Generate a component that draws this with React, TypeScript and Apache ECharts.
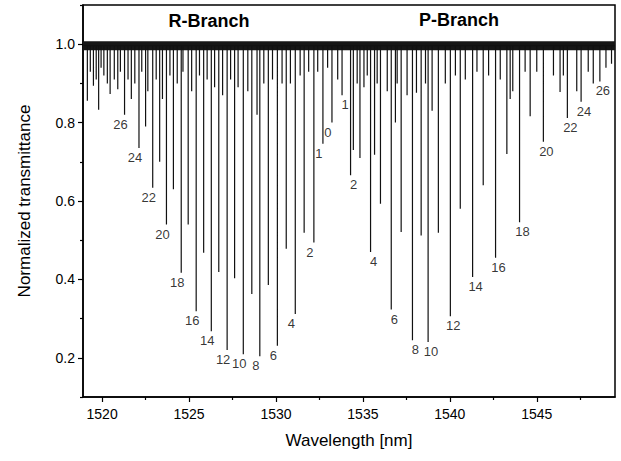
import React, { useEffect, useRef } from "react";
import * as echarts from "echarts";

// Axis ranges and tick values
const X_MIN = 1518.9;
const X_MAX = 1549.5;
const Y_MIN = 0.1;
const Y_MAX = 1.1;
const xMajorTicks = [1520, 1525, 1530, 1535, 1540, 1545];
const xMinorTicks = [1522.5, 1527.5, 1532.5, 1537.5, 1542.5, 1547.5];
const yMajorTicks = [0.2, 0.4, 0.6, 0.8, 1.0];
const yMinorTicks = [0.1, 0.3, 0.5, 0.7, 0.9, 1.1];
const BASELINE = 0.996;

// R-branch labelled lines
const rLabels = ["26", "24", "22", "20", "18", "16", "14", "12", "10", "8", "6", "4", "2", "1", "0"];
const rWavelength = [1521.29, 1522.12, 1522.91, 1523.7, 1524.55, 1525.41, 1526.28, 1527.19, 1528.12, 1529.07, 1530.08, 1531.11, 1532.18, 1532.7, 1533.22];
const rTransmittance = [0.82, 0.735, 0.634, 0.54, 0.417, 0.319, 0.268, 0.22, 0.209, 0.204, 0.231, 0.312, 0.494, 0.746, 0.8];

// P-branch labelled lines
const pLabels = ["1", "2", "4", "6", "8", "10", "12", "14", "16", "18", "20", "22", "24", "26"];
const pWavelength = [1533.8, 1534.29, 1535.44, 1536.63, 1537.85, 1538.75, 1540.03, 1541.31, 1542.63, 1544.01, 1545.38, 1546.76, 1547.55, 1548.63];
const pTransmittance = [0.87, 0.666, 0.47, 0.323, 0.245, 0.24, 0.306, 0.406, 0.455, 0.546, 0.751, 0.812, 0.853, 0.905];

// Unlabelled absorption lines (odd-J lines and weak hot-band lines)
const otherWavelength = [
  1519.15, 1519.32, 1519.5, 1519.66, 1519.8, 1519.94, 1520.1, 1520.3, 1520.46, 1520.7,
  1520.9, 1521.05, 1521.49, 1521.68, 1521.88, 1522.28, 1522.5, 1522.63, 1523.11, 1523.31,
  1523.47, 1523.9, 1524.1, 1524.32, 1524.65, 1524.95, 1525.15, 1525.6, 1525.84, 1526.04,
  1526.47, 1526.71, 1526.93, 1527.39, 1527.62, 1527.82, 1528.38, 1528.61, 1528.91, 1529.3,
  1529.56, 1529.8, 1530.35, 1530.59, 1530.83, 1531.39, 1531.62, 1531.88, 1532.4, 1532.97,
  1533.55, 1534.45, 1534.67, 1534.83, 1535.06, 1535.25, 1535.67, 1535.82, 1536.01, 1536.4,
  1536.87, 1536.97, 1537.2, 1537.54, 1538.08, 1538.35, 1538.6, 1538.98, 1539.34, 1539.74,
  1540.32, 1540.6, 1540.89, 1541.56, 1541.92, 1542.23, 1542.9, 1543.28, 1543.47, 1543.62,
  1544.33, 1544.62, 1545.0, 1545.96, 1546.34, 1546.53, 1547.3, 1547.96, 1548.25, 1548.98,
  1549.3,
];
const otherTransmittance = [
  0.856, 0.93, 0.894, 0.91, 0.833, 0.94, 0.92, 0.9, 0.873, 0.91,
  0.885, 0.93, 0.91, 0.86, 0.9, 0.93, 0.79, 0.88, 0.91, 0.7,
  0.86, 0.92, 0.63, 0.9, 0.93, 0.54, 0.88, 0.92, 0.468, 0.91,
  0.89, 0.419, 0.87, 0.91, 0.403, 0.89, 0.88, 0.363, 0.82, 0.9,
  0.386, 0.91, 0.9, 0.478, 0.9, 0.92, 0.519, 0.93, 0.93, 0.94,
  0.91, 0.73, 0.9, 0.71, 0.89, 0.92, 0.718, 0.9, 0.593, 0.88,
  0.8, 0.9, 0.521, 0.87, 0.876, 0.512, 0.9, 0.83, 0.519, 0.9,
  0.92, 0.58, 0.91, 0.93, 0.64, 0.92, 0.91, 0.72, 0.86, 0.88,
  0.93, 0.816, 0.93, 0.92, 0.878, 0.92, 0.88, 0.93, 0.9, 0.94,
  0.95,
];

const FONT = "'Liberation Sans', Arial, Helvetica, sans-serif";

function buildSpectrum(): number[][] {
  const lines: number[][] = [];
  rWavelength.forEach((w, i) => lines.push([w, rTransmittance[i]]));
  pWavelength.forEach((w, i) => lines.push([w, pTransmittance[i]]));
  otherWavelength.forEach((w, i) => lines.push([w, otherTransmittance[i]]));
  lines.sort((a, b) => a[0] - b[0]);
  const pts: number[][] = [[X_MIN, BASELINE]];
  lines.forEach(([w, t]) => {
    pts.push([w, BASELINE], [w, t], [w, BASELINE]);
  });
  pts.push([X_MAX, BASELINE]);
  return pts;
}

export default function App() {
  const ref = useRef<HTMLDivElement>(null);
  useEffect(() => {
    if (!ref.current) return;
    const chart = echarts.init(ref.current, undefined, { renderer: "svg" });
    const labelStyle = {
      show: true,
      position: "bottom" as const,
      distance: 3,
      fontSize: 13,
      color: "#000",
      fontFamily: FONT,
      formatter: (p: any) => p.data[2],
    };
    chart.setOption({
      animation: false,
      backgroundColor: "#fff",
      grid: {
        left: 83,
        right: 6,
        top: 5,
        bottom: 64,
        show: true,
        borderColor: "#000",
        borderWidth: 1.5,
        backgroundColor: "transparent",
      },
      graphic: [
        {
          type: "text",
          x: 209,
          y: 21,
          style: {
            text: "R-Branch",
            fontSize: 18,
            fontWeight: "bold",
            fontFamily: FONT,
            fill: "#000",
            textAlign: "center",
            textVerticalAlign: "middle",
          },
        },
        {
          type: "text",
          x: 459,
          y: 20,
          style: {
            text: "P-Branch",
            fontSize: 18,
            fontWeight: "bold",
            fontFamily: FONT,
            fill: "#000",
            textAlign: "center",
            textVerticalAlign: "middle",
          },
        },
      ],
      xAxis: [
        {
          type: "value",
          min: X_MIN,
          max: X_MAX,
          position: "bottom",
          axisLine: { show: true, onZero: false, lineStyle: { color: "#000", width: 1.5 } },
          axisTick: { show: true, length: 5, customValues: xMajorTicks, lineStyle: { color: "#000", width: 1.2 } },
          axisLabel: {
            show: true,
            customValues: xMajorTicks,
            fontSize: 14,
            color: "#000",
            fontFamily: FONT,
            margin: 10,
            formatter: (v: number) => String(Math.round(v)),
          },
          splitLine: { show: false },
          name: "Wavelength [nm]",
          nameLocation: "middle",
          nameGap: 35,
          nameTextStyle: { fontSize: 17, color: "#000", fontFamily: FONT },
        },
        {
          type: "value",
          min: X_MIN,
          max: X_MAX,
          position: "bottom",
          axisLine: { show: false, onZero: false },
          axisTick: { show: true, length: 3, customValues: xMinorTicks, lineStyle: { color: "#000", width: 1.2 } },
          axisLabel: { show: false },
          splitLine: { show: false },
        },
      ],
      yAxis: [
        {
          type: "value",
          min: Y_MIN,
          max: Y_MAX,
          position: "left",
          axisLine: { show: true, onZero: false, lineStyle: { color: "#000", width: 1.5 } },
          axisTick: { show: true, length: 5, customValues: yMajorTicks, lineStyle: { color: "#000", width: 1.2 } },
          axisLabel: {
            show: true,
            customValues: yMajorTicks,
            fontSize: 14,
            color: "#000",
            fontFamily: FONT,
            margin: 8,
            formatter: (v: number) => v.toFixed(1),
          },
          splitLine: { show: false },
          name: "Normalized transmittance",
          nameLocation: "middle",
          nameGap: 50,
          nameTextStyle: { fontSize: 17, color: "#000", fontFamily: FONT },
        },
        {
          type: "value",
          min: Y_MIN,
          max: Y_MAX,
          position: "left",
          axisLine: { show: false, onZero: false },
          axisTick: { show: true, length: 3, customValues: yMinorTicks, lineStyle: { color: "#000", width: 1.2 } },
          axisLabel: { show: false },
          splitLine: { show: false },
        },
      ],
      series: [
        {
          name: "baseline",
          type: "line",
          xAxisIndex: 0,
          yAxisIndex: 0,
          data: [[X_MIN, BASELINE], [X_MAX, BASELINE]],
          showSymbol: false,
          lineStyle: { color: "#161616", width: 9 },
          silent: true,
          z: 2,
        },
        {
          name: "spectrum",
          type: "line",
          xAxisIndex: 0,
          yAxisIndex: 0,
          data: buildSpectrum(),
          showSymbol: false,
          lineStyle: { color: "#111", width: 1.2 },
          silent: true,
          z: 3,
        },
        {
          name: "R labels",
          type: "scatter",
          xAxisIndex: 0,
          yAxisIndex: 0,
          symbolSize: 0,
          data: rWavelength.map((w, i) => [w, rTransmittance[i], rLabels[i]]),
          label: { ...labelStyle, offset: [-4, 0] },
          z: 4,
        },
        {
          name: "P labels",
          type: "scatter",
          xAxisIndex: 0,
          yAxisIndex: 0,
          symbolSize: 0,
          data: pWavelength.map((w, i) => [w, pTransmittance[i], pLabels[i]]),
          label: { ...labelStyle, offset: [3, 0] },
          z: 4,
        },
      ],
    });
    return () => chart.dispose();
  }, []);
  return (
    <div
      ref={ref}
      style={{ position: "fixed", left: 0, top: 0, width: 621, height: 461, background: "#fff" }}
    />
  );
}
